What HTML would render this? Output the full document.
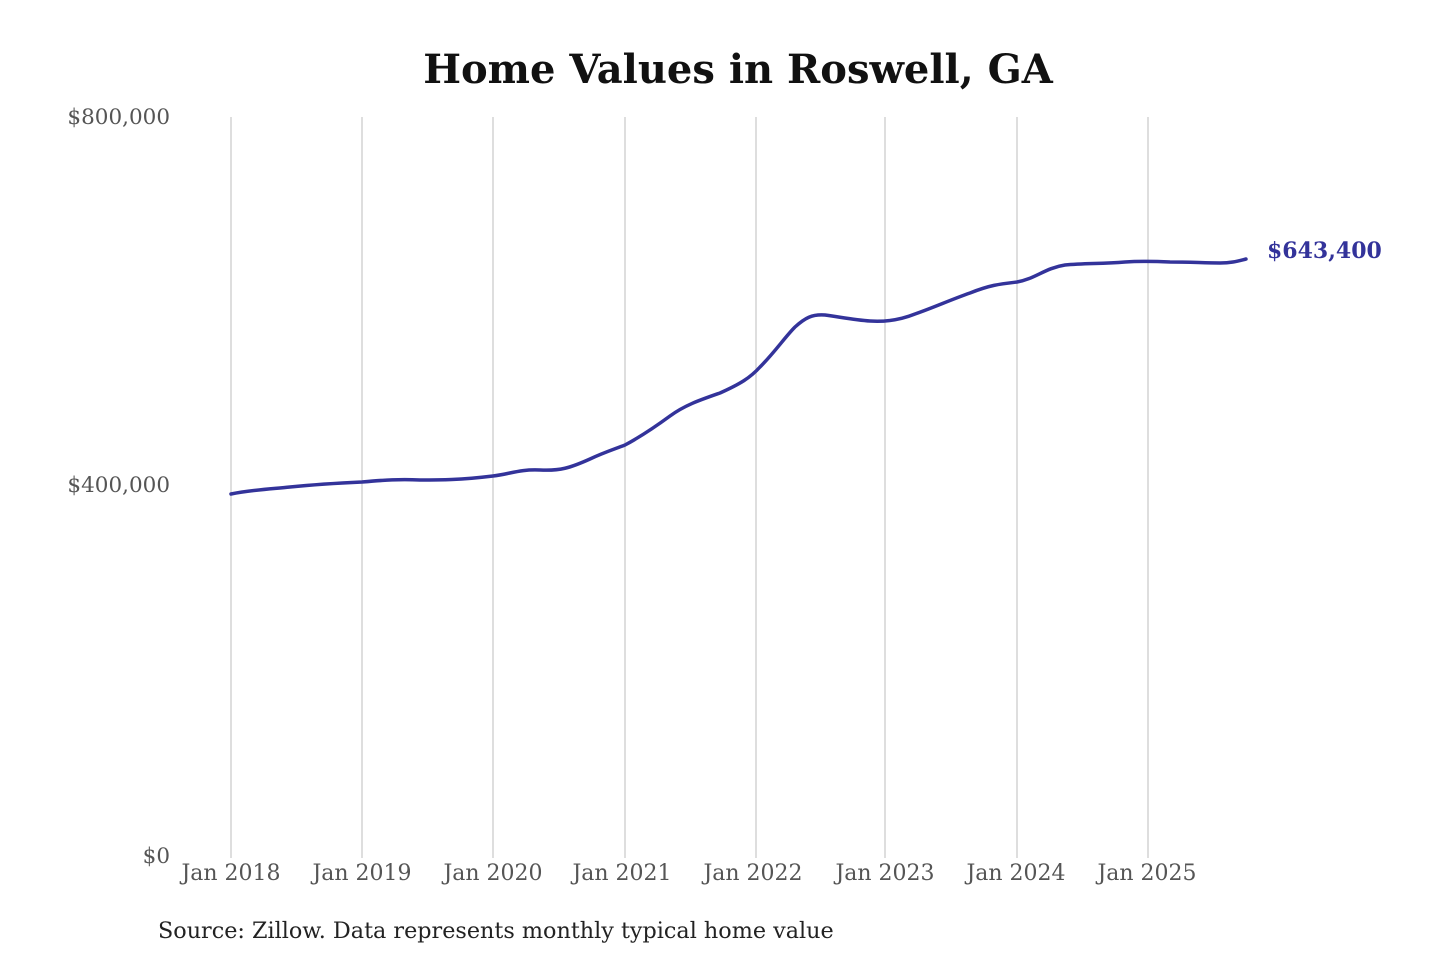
<!DOCTYPE html>
<html><head><meta charset="utf-8"><style>
html,body{margin:0;padding:0;background:#fff;}
svg{display:block;}
text{font-family:"DejaVu Serif","Liberation Serif",serif;}
</style></head><body>
<svg width="1440" height="960" viewBox="0 0 1440 960" xmlns="http://www.w3.org/2000/svg">
<text x="738" y="83" text-anchor="middle" font-size="40" font-weight="bold" fill="#111">Home Values in Roswell, GA</text>
<g stroke="#c8c8c8" stroke-width="1.2">
<line x1="231" y1="117" x2="231" y2="858"/>
<line x1="362" y1="117" x2="362" y2="858"/>
<line x1="493" y1="117" x2="493" y2="858"/>
<line x1="625" y1="117" x2="625" y2="858"/>
<line x1="756" y1="117" x2="756" y2="858"/>
<line x1="885" y1="117" x2="885" y2="858"/>
<line x1="1017" y1="117" x2="1017" y2="858"/>
<line x1="1148" y1="117" x2="1148" y2="858"/>
</g>
<g font-size="21.5" fill="#555" text-anchor="end">
<text x="170" y="124">$800,000</text>
<text x="170" y="492">$400,000</text>
<text x="170" y="863">$0</text>
</g>
<g font-size="22" fill="#555" text-anchor="middle">
<text x="231" y="880">Jan 2018</text>
<text x="362" y="880">Jan 2019</text>
<text x="493" y="880">Jan 2020</text>
<text x="622" y="880">Jan 2021</text>
<text x="753" y="880">Jan 2022</text>
<text x="885" y="880">Jan 2023</text>
<text x="1016" y="880">Jan 2024</text>
<text x="1147" y="880">Jan 2025</text>
</g>
<path d="M231,494 C250,490 270,489 290,487 C320,484 340,483 362,482 C385,480 400,479 420,480 C440,480 460,480 493,476 C510,474 520,469 540,470 C560,471 570,468 590,459 C605,452 615,449 625,445 C640,437 655,427 670,416 C685,405 700,400 720,393 C740,384 750,378 760,367 C775,352 785,337 795,327 C805,318 812,314 825,315 C840,317 855,320 870,321 C885,322 900,320 915,314 C935,307 950,300 970,293 C990,285 1000,284 1017,282 C1035,279 1045,268 1065,265 C1085,263 1100,264 1125,262 C1140,261 1150,261 1170,262 C1190,262 1205,263 1220,263 C1232,263 1238,261 1246,259" fill="none" stroke="#33339a" stroke-width="3.5" stroke-linecap="round"/>
<text x="1267" y="258" font-size="22" font-weight="bold" fill="#33339a">$643,400</text>
<text x="158" y="938" font-size="22.3" fill="#222">Source: Zillow. Data represents monthly typical home value</text>
</svg>
</body></html>
